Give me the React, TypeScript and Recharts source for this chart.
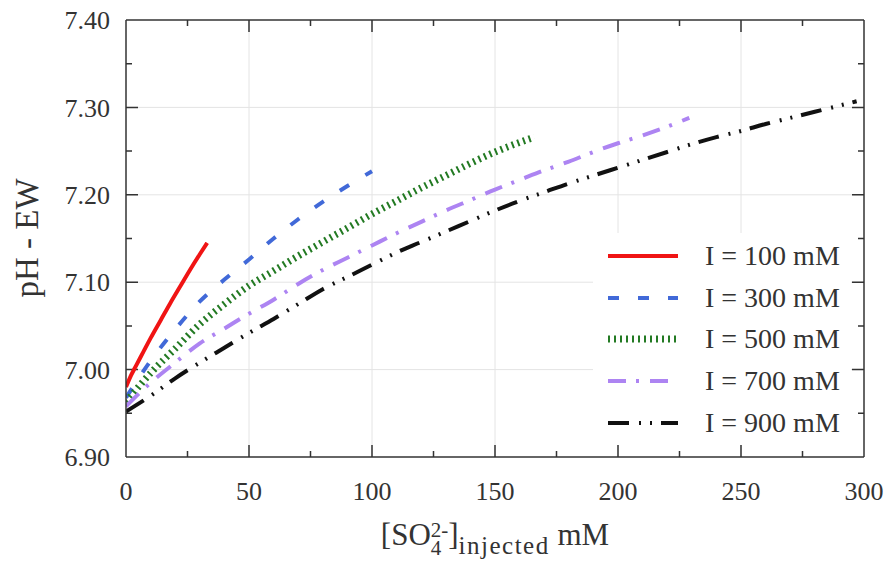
import { LineChart, Line, XAxis, YAxis, CartesianGrid, Legend, ReferenceLine } from 'recharts'

// I = 100 mM
const x100 = [0, 2, 4, 7, 10, 14, 18, 22, 26, 30, 33]
const y100 = [6.98, 6.993, 7.004, 7.02, 7.036, 7.056, 7.076, 7.095, 7.114, 7.132, 7.145]

// I = 300 mM
const x300 = [0, 10, 20, 30, 40, 50, 60, 70, 80, 90, 100]
const y300 = [6.968, 7.01, 7.046, 7.078, 7.103, 7.126, 7.15, 7.172, 7.192, 7.21, 7.227]

// I = 500 mM
const x500 = [0, 10, 20, 30, 40, 50, 60, 70, 80, 90, 100, 110, 120, 130, 140, 150, 160, 166]
const y500 = [6.963, 6.996, 7.024, 7.052, 7.075, 7.096, 7.113, 7.13, 7.146, 7.162, 7.178, 7.193, 7.208, 7.222, 7.236, 7.249, 7.26, 7.266]

// I = 700 mM
const x700 = [0, 10, 20, 30, 40, 50, 60, 70, 80, 90, 100, 110, 120, 130, 140, 150, 160, 170, 180, 190, 200, 210, 220, 229]
const y700 = [6.958, 6.985, 7.008, 7.03, 7.047, 7.064, 7.08, 7.098, 7.114, 7.128, 7.142, 7.156, 7.169, 7.182, 7.194, 7.206, 7.217, 7.228, 7.238, 7.249, 7.259, 7.268, 7.278, 7.288]

// I = 900 mM
const x900 = [0, 10, 20, 30, 40, 50, 60, 70, 80, 90, 100, 110, 120, 130, 140, 150, 160, 170, 180, 190, 200, 210, 220, 230, 240, 250, 260, 270, 280, 290, 297]
const y900 = [6.952, 6.97, 6.99, 7.008, 7.025, 7.042, 7.058, 7.075, 7.092, 7.106, 7.12, 7.134, 7.146, 7.158, 7.17, 7.182, 7.193, 7.203, 7.213, 7.222, 7.231, 7.24, 7.249, 7.258, 7.266, 7.273, 7.281, 7.288, 7.295, 7.302, 7.307]

const xTicks = [0, 25, 50, 75, 100, 125, 150, 175, 200, 225, 250, 275, 300]
const xMajor = [0, 50, 100, 150, 200, 250, 300]
const yTicks = [6.9, 6.95, 7.0, 7.05, 7.1, 7.15, 7.2, 7.25, 7.3, 7.35, 7.4]
const yMajor = [6.9, 7.0, 7.1, 7.2, 7.3, 7.4]

const toPoints = (xs: number[], ys: number[]) => xs.map((x, i) => ({ x, y: ys[i] }))

const series = [
  { name: 'I = 100 mM', data: toPoints(x100, y100), color: '#f01414', width: 4, dash: undefined },
  { name: 'I = 300 mM', data: toPoints(x300, y300), color: '#4169d8', width: 4, dash: '11 19' },
  { name: 'I = 500 mM', data: toPoints(x500, y500), color: '#237a23', width: 7, dash: '2 4' },
  { name: 'I = 700 mM', data: toPoints(x700, y700), color: '#ad84f2', width: 4, dash: '18 10 3 11' },
  { name: 'I = 900 mM', data: toPoints(x900, y900), color: '#111111', width: 4, dash: '21 10 2 9 2 9' },
]

const FONT = '"Liberation Serif", "DejaVu Serif", serif'
const INK = '#333'
const MAJOR_LEN = 12
const MINOR_LEN = 6

const isMajor = (v: number, list: number[]) => list.some((m) => Math.abs(m - v) < 1e-6)

// short inward tick at both ends of a reference line (so the frame gets ticks on all four sides)
const innerTicks = (len: number) => (p: any) => {
  const { x1, y1, x2, y2 } = p
  const d = Math.hypot(x2 - x1, y2 - y1) || 1
  const ux = ((x2 - x1) / d) * len
  const uy = ((y2 - y1) / d) * len
  return (
    <path
      d={`M${x1},${y1}L${x1 + ux},${y1 + uy}M${x2},${y2}L${x2 - ux},${y2 - uy}`}
      stroke={INK}
      strokeWidth={1.5}
      fill="none"
    />
  )
}

const XLabel = (props: any) => {
  const { x, y, payload } = props
  return (
    <text x={x} y={y + 43} textAnchor="middle" fontSize={26} fontFamily={FONT} fill={INK}>
      {payload.value}
    </text>
  )
}

const YLabel = (props: any) => {
  const { x, y, payload } = props
  return (
    <text x={x - 16} y={y} dy="0.35em" textAnchor="end" fontSize={26} fontFamily={FONT} fill={INK}>
      {payload.value.toFixed(2)}
    </text>
  )
}

const XTitle = (props: any) => {
  const { viewBox } = props
  const cx = viewBox.x + viewBox.width / 2
  return (
    <text x={cx} y={viewBox.y + 88} textAnchor="middle" fontSize={31} fontFamily={FONT} fill={INK}>
      [SO
      <tspan fontSize={21} dy={10}>4</tspan>
      <tspan fontSize={21} dx={-10.5} dy={-18}>2-</tspan>
      <tspan dy={8}>]</tspan>
      <tspan fontSize={25} letterSpacing={1.5} dy={9}>injected</tspan>
      <tspan dy={-9}> mM</tspan>
    </text>
  )
}

const YTitle = () => (
  <text x={38} y={238} transform="rotate(-90 38 238)" textAnchor="middle" fontSize={33} fontFamily={FONT} fill={INK}>
    pH - EW
  </text>
)

const LegendBox = () => (
  <div style={{ width: 258, height: 212, background: '#fff', paddingTop: 2, boxSizing: 'border-box' }}>
    {series.map((s) => (
      <div key={s.name} style={{ height: 41.75, display: 'flex', alignItems: 'center' }}>
        <svg width={97} height={12} style={{ marginLeft: 15, flex: 'none' }}>
          <line x1={0} x2={70} y1={6} y2={6} stroke={s.color} strokeWidth={s.width} strokeDasharray={s.dash} />
        </svg>
        <span style={{ fontFamily: FONT, fontSize: 28, color: INK, whiteSpace: 'nowrap' }}>{s.name}</span>
      </div>
    ))}
  </div>
)

export default function App() {
  return (
    <div style={{ position: 'absolute', left: 0, top: 0, width: 892, height: 562, background: '#fff' }}>
      <LineChart width={892} height={562} margin={{ top: 19, right: 27, left: 0, bottom: 0 }}>
        <XAxis
          xAxisId="bottom"
          type="number"
          dataKey="x"
          domain={[0, 300]}
          ticks={xMajor}
          interval={0}
          height={105}
          tickSize={0}
          tickMargin={0}
          tickLine={false}
          tick={<XLabel />}
          axisLine={{ stroke: INK, strokeWidth: 1.5 }}
          label={<XTitle />}
          allowDataOverflow
        />
        <XAxis
          xAxisId="top"
          orientation="top"
          type="number"
          domain={[0, 300]}
          height={1}
          tick={false}
          tickLine={false}
          axisLine={{ stroke: INK, strokeWidth: 1.5 }}
          allowDataOverflow
        />
        <YAxis
          yAxisId="left"
          type="number"
          domain={[6.9, 7.4]}
          ticks={yMajor}
          interval={0}
          width={126}
          tickSize={0}
          tickMargin={0}
          tickLine={false}
          tick={<YLabel />}
          axisLine={{ stroke: INK, strokeWidth: 1.5 }}
          label={<YTitle />}
          allowDataOverflow
        />
        <YAxis
          yAxisId="right"
          orientation="right"
          type="number"
          domain={[6.9, 7.4]}
          width={1}
          tick={false}
          tickLine={false}
          axisLine={{ stroke: INK, strokeWidth: 1.5 }}
          allowDataOverflow
        />
        <CartesianGrid
          stroke="#e4e4e4"
          strokeWidth={1}
          fill="none"
          xAxisId="bottom"
          yAxisId="left"
          verticalValues={xMajor.slice(1, -1)}
          horizontalValues={yMajor.slice(1, -1)}
        />
        {xTicks.slice(1, -1).map((v) => (
          <ReferenceLine
            key={`xt${v}`}
            xAxisId="bottom"
            yAxisId="left"
            x={v}
            shape={innerTicks(isMajor(v, xMajor) ? MAJOR_LEN : MINOR_LEN)}
          />
        ))}
        {yTicks.slice(1, -1).map((v) => (
          <ReferenceLine
            key={`yt${v}`}
            xAxisId="bottom"
            yAxisId="left"
            y={v}
            shape={innerTicks(isMajor(v, yMajor) ? MAJOR_LEN : MINOR_LEN)}
          />
        ))}
        {series.map((s) => (
          <Line
            key={s.name}
            xAxisId="bottom"
            yAxisId="left"
            data={s.data}
            dataKey="y"
            name={s.name}
            type="monotone"
            stroke={s.color}
            strokeWidth={s.width}
            strokeDasharray={s.dash}
            dot={false}
            activeDot={false}
            isAnimationActive={false}
          />
        ))}
        <Legend
          layout="vertical"
          align="center"
          verticalAlign="middle"
          wrapperStyle={{ left: 593, top: 233, width: 258 }}
          content={() => <LegendBox />}
        />
      </LineChart>
    </div>
  )
}
